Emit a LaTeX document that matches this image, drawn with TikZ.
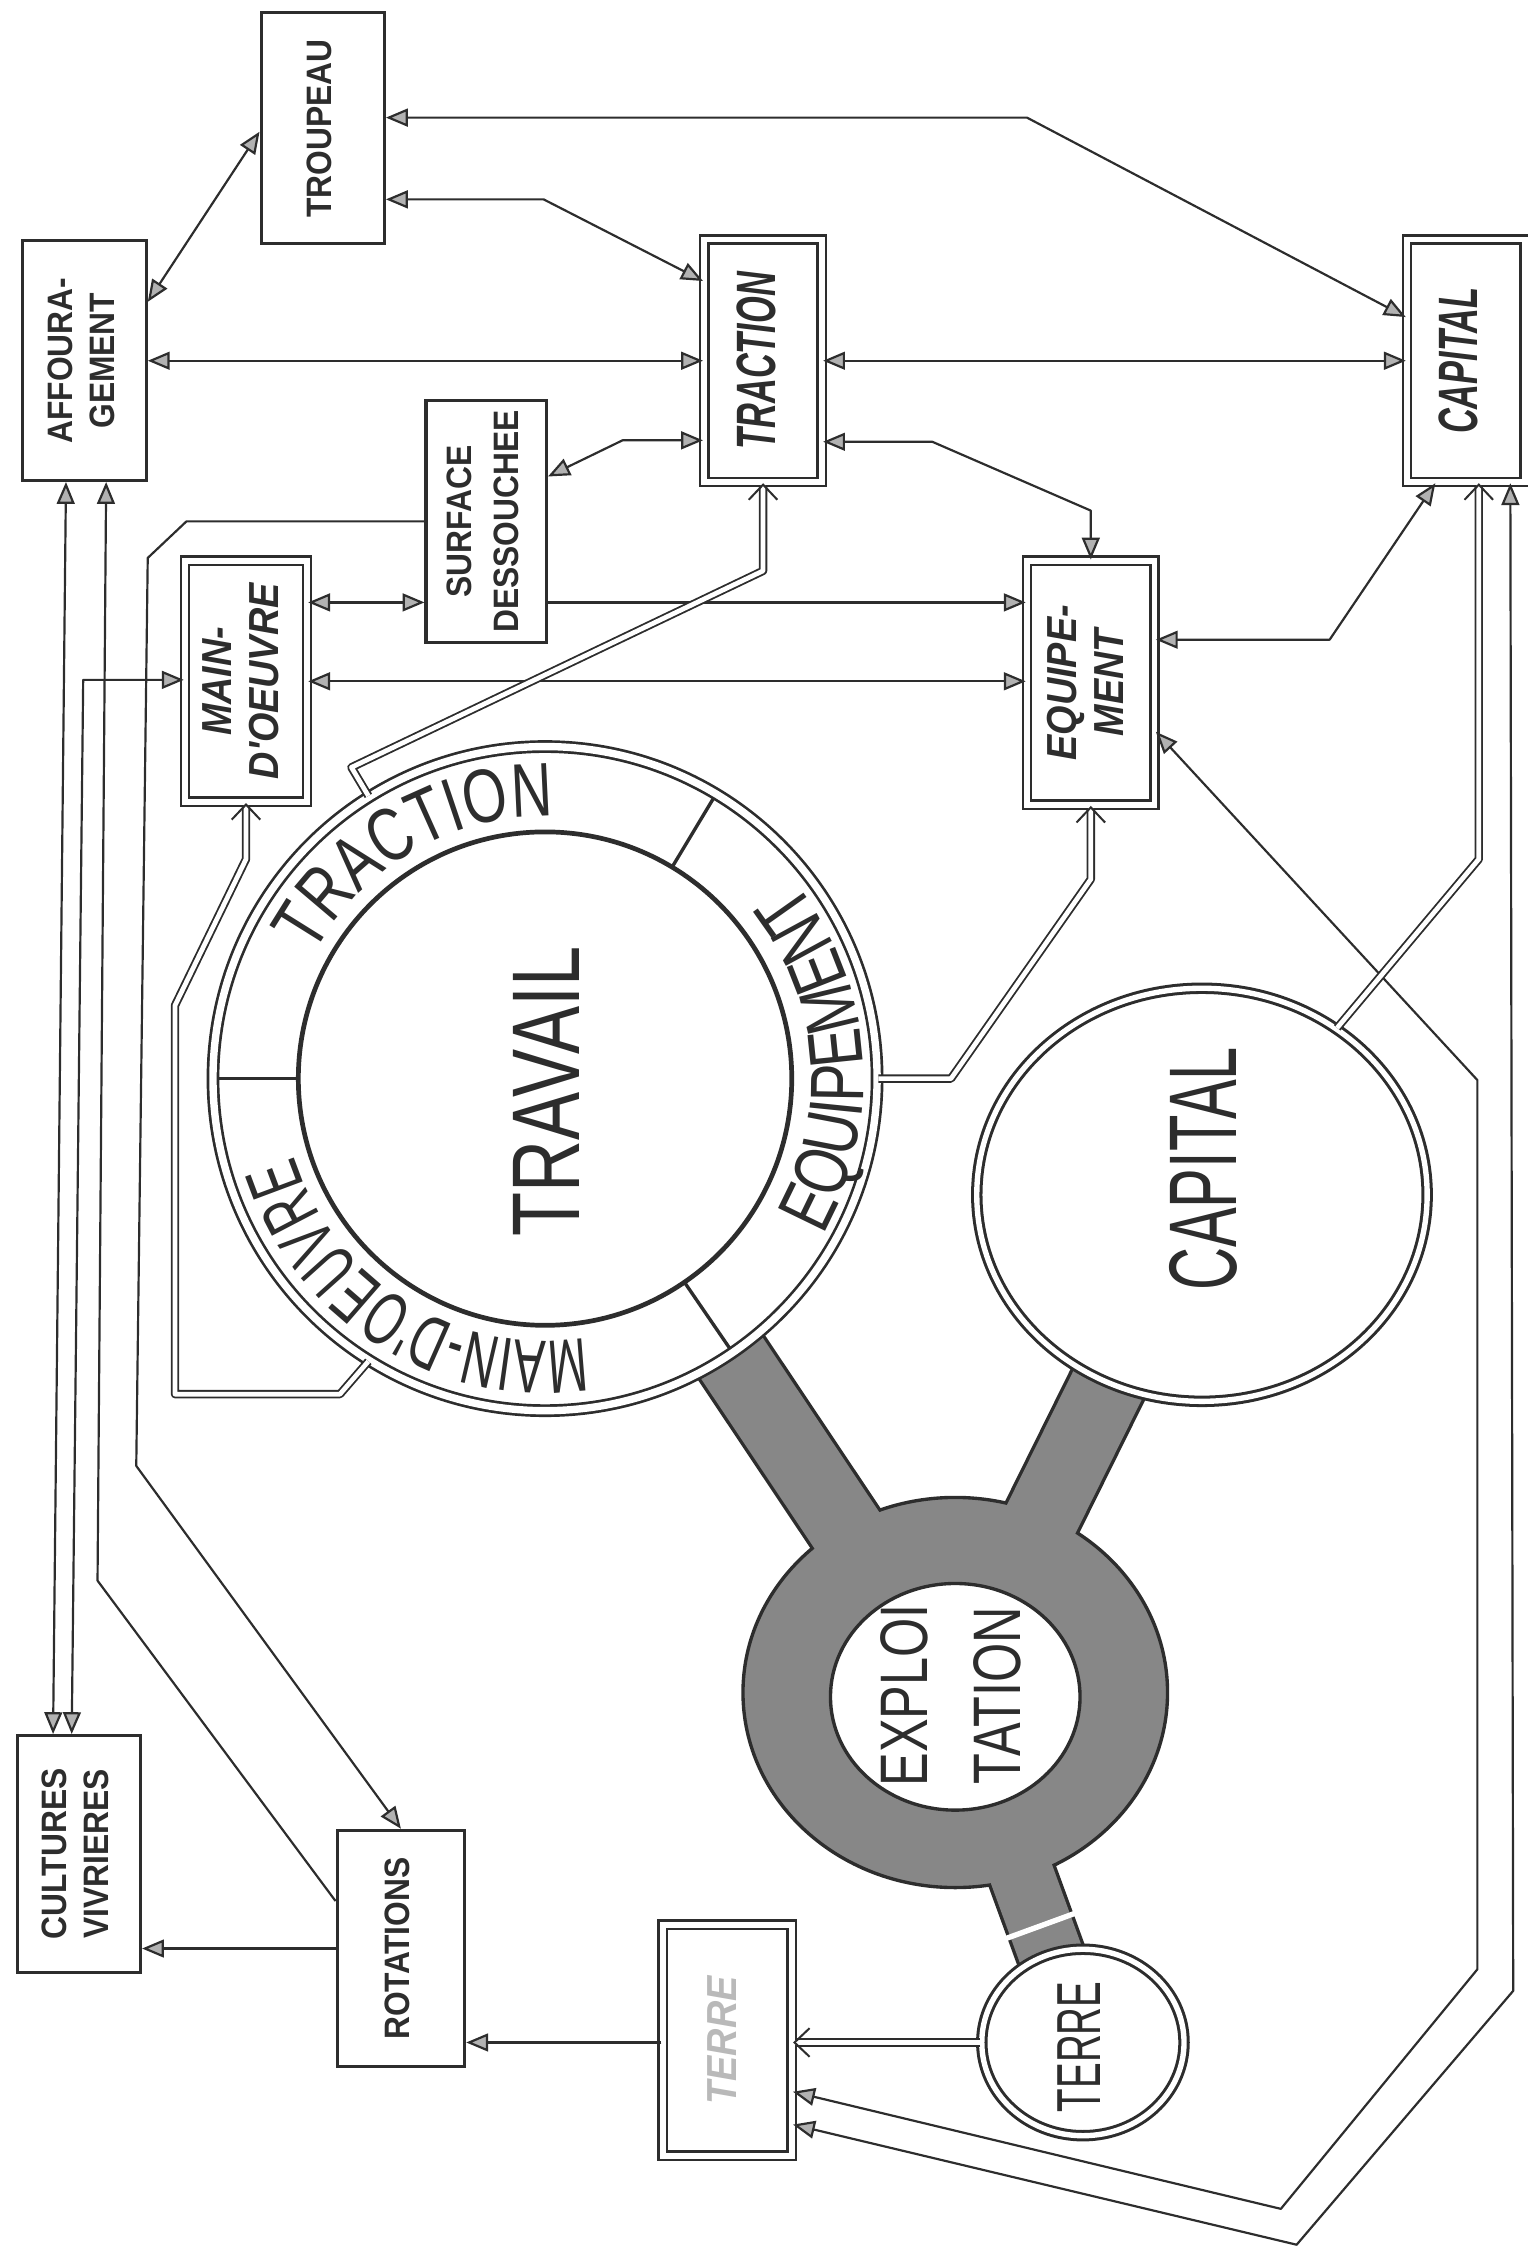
\documentclass[tikz,border=0pt]{standalone}
\usepackage{fontspec}
\setmainfont{Liberation Sans}
\newfontfamily\lettrage{Liberation Sans}[FakeStretch=0.9]
\newfontfamily\etroit{Liberation Sans}[FakeStretch=0.75]
\newfontfamily\tresetroit{Liberation Sans}[FakeStretch=0.62]
\usetikzlibrary{arrows.meta,calc,shapes.geometric,decorations.text}

\definecolor{ink}{RGB}{45,45,45}
\definecolor{gris}{RGB}{135,135,135}

\newcommand{\vlab}[1]{\rotatebox{90}{\begin{tabular}{@{}c@{}}#1\end{tabular}}}

\tikzset{
  boite/.style 2 args={draw=ink, line width=0.9pt, fill=white, inner sep=0pt,
    minimum width=#1*0.15mm, minimum height=#2*0.15mm},
  dboite/.style 2 args={boite={#1}{#2}, double=white, double distance=1.7pt, line width=0.75pt},
  etiq/.style={text=ink, font=\lettrage\bfseries\fontsize{10.5}{12.5}\selectfont},
  etiqit/.style={text=ink, font=\lettrage\bfseries\itshape\fontsize{12.5}{14}\selectfont},
  etiqcn/.style={text=ink, font=\tresetroit\bfseries\itshape\fontsize{16.5}{18}\selectfont},
  lien/.style={draw=ink, line width=0.65pt, line join=round},
  dlien/.style={draw=ink, line width=0.55pt, double=white, double distance=1.4pt, line join=round,
    -{Straight Barb[length=4.5pt, width=8.5pt, line width=0.6pt]}},
}

\begin{document}
\begin{tikzpicture}[x=0.15mm, y=-0.15mm, >={Triangle[length=6.5pt,width=5.3pt,fill=black!30]}]
\useasboundingbox (0,0) rectangle (1065,1568);

% centres des cercles
\coordinate (ct) at (380,752);
\coordinate (ce) at (666,1180);
\coordinate (cc) at (838,833);
\coordinate (cr) at (755,1424);

% bras de l'exploitation
\draw[ink, line width=24pt] (ct) -- (ce) -- (cc);
\draw[ink, line width=21pt] (ce) -- (cr);
\node[ellipse, draw=ink, line width=1pt, fill=gris, minimum width=44.4mm, minimum height=40.8mm, inner sep=0pt] (expl) at (ce) {};
\draw[gris, line width=22pt] (ct) -- (ce) -- (cc);
\draw[gris, line width=19pt] (ce) -- (cr);
\draw[white, line width=1.6pt] ($(ce)!0.667!(cr)!0.4cm!90:(cr)$) -- ($(ce)!0.667!(cr)!0.4cm!-90:(cr)$);
\node[ellipse, draw=ink, line width=1pt, fill=white, minimum width=26.1mm, minimum height=23.7mm, inner sep=0pt] (explin) at (666,1183) {};
\node[text=ink, font=\etroit\fontsize{20}{27.7}\selectfont] (explt) at (666,1182) {\vlab{EXPLOI\\TATION}};

% travail
\node[circle, draw=ink, fill=white, line width=0.8pt, double=white, double distance=2.2pt, minimum size=69.45mm, inner sep=0pt] (anneau) at (ct) {};
\node[circle, draw=ink, fill=white, line width=1.4pt, minimum size=51.6mm, inner sep=0pt] (travail) at (ct) {};
\node[rotate=90, text=ink, font=\etroit\fontsize{28.6}{30}\selectfont] (travailt) at (381,761) {TRAVAIL};
\foreach \a in {59,180,-55.6}
  \draw[ink, line width=1pt] ($(ct)+(\a:2.58cm)$) -- ($(ct)+(\a:3.42cm)$);
\path[decorate, decoration={text along path, text align=center,
  text={|\color{ink}\etroit\fontsize{22.6}{24}\selectfont|TRACTION}}]
  ($(ct)+(175:2.745cm)$) arc[start angle=175, end angle=65, radius=2.745cm];
\path[decorate, decoration={text along path, text align=center,
  text={|\color{ink}\etroit\fontsize{22.6}{24}\selectfont|EQUIPEMENT}}]
  ($(ct)+(-55:3.33cm)$) arc[start angle=-55, end angle=64, radius=3.33cm];
\path[decorate, decoration={text along path, text align=center,
  text={|\color{ink}\tresetroit\fontsize{22.6}{24}\selectfont|MAIN-D'OEUVRE}}]
  ($(ct)+(296:2.745cm)$) arc[start angle=296, end angle=180, radius=2.745cm];

% capital et terre
\node[ellipse, draw=ink, fill=white, line width=0.9pt, double=white, double distance=1.6pt, minimum width=47.1mm, minimum height=43.2mm, inner sep=0pt] (capc) at (cc) {};
\node[rotate=90, text=ink, font=\tresetroit\fontsize{28.6}{30}\selectfont] (capct) at (839,815) {CAPITAL};
\node[ellipse, draw=ink, fill=white, line width=0.9pt, double=white, double distance=1.6pt, minimum width=21.15mm, minimum height=19.5mm, inner sep=0pt] (terc) at (cr) {};
\node[rotate=90, text=ink, font=\tresetroit\fontsize{18.5}{20}\selectfont] (terct) at (752,1427) {TERRE};

% boites
\node[boite={86}{161}, etiq] (troupeau) at (225,89.5) {\vlab{TROUPEAU}};
\node[boite={86}{167}, etiq] (affour) at (59,251.5) {\vlab{AFFOURA-\\GEMENT}};
\node[dboite={82}{169}, etiqcn] (tractionb) at (532,251.5) {\vlab{TRACTION}};
\node[dboite={82}{169}, etiqcn] (capitalb) at (1022,251.5) {\vlab{CAPITAL}};
\node[boite={84}{169}, etiq] (surface) at (339,363.5) {\vlab{SURFACE\\[1.5pt]DESSOUCHEE}};
\node[dboite={85}{168}, etiqit] (maindo) at (171.5,475) {\vlab{MAIN-\\D'OEUVRE}};
\node[dboite={89}{170}, etiqit] (equip) at (760.5,476) {\vlab{EQUIPE-\\MENT}};
\node[boite={86}{165}, etiq] (cultures) at (55,1292.5) {\vlab{CULTURES\\VIVRIERES}};
\node[boite={89}{165}, etiq] (rotations) at (279.5,1358.5) {\vlab{ROTATIONS}};
\node[dboite={90}{161}, etiqit, text=gray!55] (terreb) at (507,1422.5) {\vlab{TERRE}};

% liaisons simples
\draw[lien,<->] (affour.43) -- (troupeau.183);
\coordinate (b2) at (716,82);
\draw[lien,<->] (b2 -| troupeau.east) -- (b2) -- (capitalb.144);
\coordinate (b3) at (379,139);
\draw[lien,<->] (b3 -| troupeau.east) -- (b3) -- (tractionb.127);
\draw[lien,<->] (affour.east) -- (tractionb.west);
\draw[lien,<->] (tractionb.east) -- (capitalb.west);
\coordinate (b6) at (434,307);
\draw[lien,<->] (b6 -| tractionb.west) -- (b6) -- (surface.36);
\coordinate (b7) at (650,308);
\coordinate (b7b) at (760.5,356);
\draw[lien,<->] (b7 -| tractionb.east) -- (b7) -- (b7b) -- (equip.north);
\coordinate (b8) at (255,420);
\draw[lien,<->] (b8 -| maindo.east) -- (b8 -| surface.west);
\draw[lien,->] (b8 -| surface.east) -- (b8 -| equip.west);
\draw[lien,<->] (maindo.east) -- (maindo.east -| equip.west);
\coordinate (b11) at (130,363.5);
\draw[lien,->] (surface.west) -- (b11) -- (103,389) -- (95,1022) -- (rotations.north);
\draw[lien,<->] ($(affour.south)+(-13,0)$) -- ($(cultures.north)+(-18,0)$);
\draw[lien,<-] ($(affour.south)+(15,0)$) -- (68,1102) -- (rotations.144);
\coordinate (b14) at (58,474);
\draw[lien,<->] (b14 -| maindo.west) -- (b14) -- ($(cultures.north)+(-5,0)$);
\draw[lien,<->] (equip.-37) -- (1030,753) -- (1030,1373) -- (893,1540) -- (terreb.-38);
\draw[lien,<->] ($(capitalb.south)+(31,0)$) -- (1055,1388) -- (904,1565) -- (terreb.-52);
\coordinate (b17) at (927,446);
\draw[lien,<->] (b17 -| equip.east) -- (b17) -- (capitalb.256);
\coordinate (b23) at (400,1424);
\draw[lien,->] (b23 -| terreb.west) -- (b23 -| rotations.east);
\draw[lien,->] (rotations.west) -- (rotations.west -| cultures.east);

% liaisons doubles
\coordinate (k5) at (171.5,599);
\draw[dlien] (anneau.238) -- (237,972) -- (122,972) -- (122,701) -- (k5) -- (maindo.south);
\coordinate (k6) at (532,398);
\draw[dlien] (anneau.122) -- (245,535) -- (k6) -- (tractionb.south);
\coordinate (k7) at (760.5,613);
\draw[dlien] (anneau.0) -- (663,752) -- (k7) -- (equip.south);
\coordinate (k8) at (1031,599);
\draw[dlien] (capc.51) -- (k8) -- (k8 |- capitalb.south);
\draw[dlien] (terc.west) -- (terc.west -| terreb.east);
\end{tikzpicture}
\end{document}
